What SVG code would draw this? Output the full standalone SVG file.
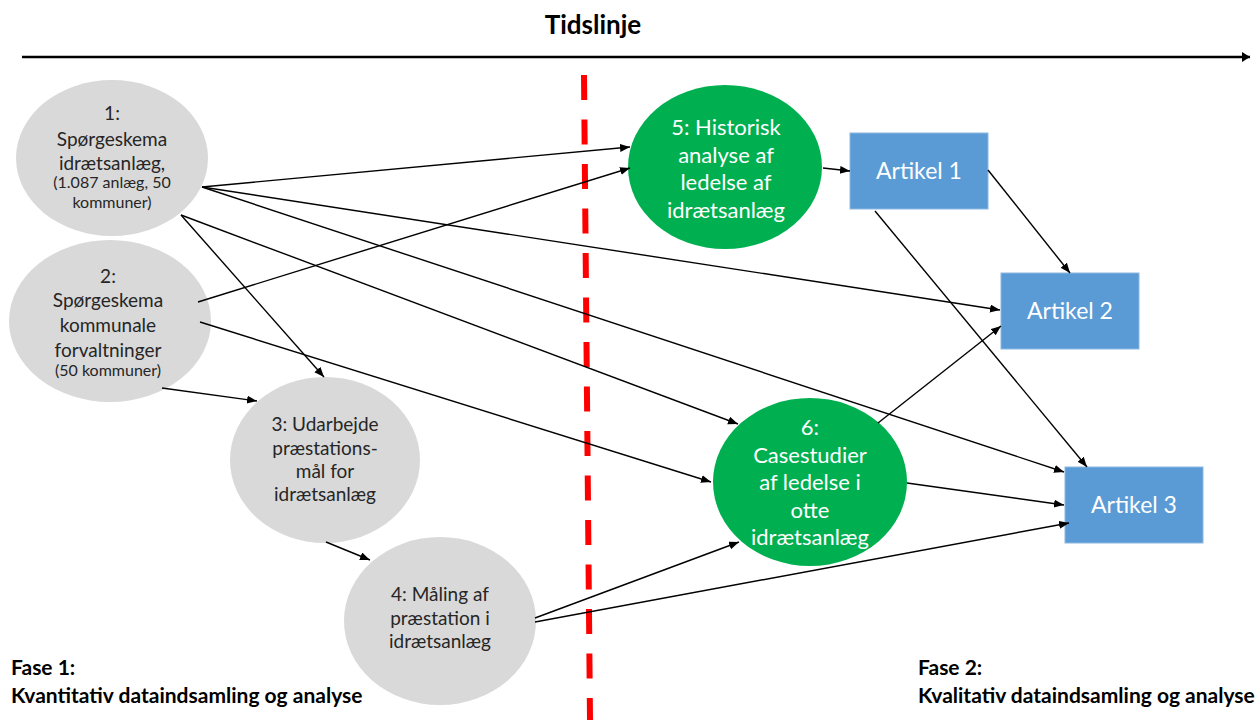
<svg xmlns="http://www.w3.org/2000/svg" width="1256" height="720" viewBox="0 0 1256 720">
<style>
.gray{fill:#D9D9D9}
.green{fill:#00B050}
.box{fill:#5B9BD5;stroke:#8DB8E2;stroke-width:1}
.gt{font-family:Lato,"Liberation Sans",sans-serif;font-size:19px;fill:#262626;text-anchor:middle}
.gs{font-size:16px}
.wt{font-family:Lato,"Liberation Sans",sans-serif;font-size:22px;fill:#FFFFFF;text-anchor:middle}
.at{font-family:Lato,"Liberation Sans",sans-serif;font-size:23px;fill:#FFFFFF;text-anchor:middle}
.bt{font-family:Lato,"Liberation Sans",sans-serif;font-weight:bold;fill:#000000}
.c{stroke:#000;stroke-width:1.4;fill:none;marker-end:url(#ah)}
</style>
<defs>
<marker id="ah" markerUnits="userSpaceOnUse" markerWidth="12" markerHeight="10" refX="10" refY="4" orient="auto">
<path d="M0,0 L10,4 L0,8 z" fill="#000"/>
</marker>
<marker id="ahb" markerUnits="userSpaceOnUse" markerWidth="12" markerHeight="12" refX="8" refY="5" orient="auto">
<path d="M0,0 L8,5 L0,10 z" fill="#000"/>
</marker>
</defs>
<rect x="0" y="0" width="1256" height="720" fill="#FFFFFF"/>

<g id="timeline">
<text class="bt" x="593" y="34" font-size="26" text-anchor="middle">Tidslinje</text>
<line x1="22" y1="57" x2="1250" y2="57" stroke="#000" stroke-width="2.5" marker-end="url(#ahb)"/>
</g>

<g id="divider">
<line x1="584" y1="75" x2="590" y2="720" stroke="#FF0000" stroke-width="6" stroke-dasharray="25 19.5"/>
</g>

<g id="node1">
<ellipse class="gray" cx="112" cy="158" rx="96" ry="78"/>
<text class="gt" x="112" y="120">1:</text>
<text class="gt" x="112" y="146">Spørgeskema</text>
<text class="gt" x="112" y="170">idrætsanlæg,</text>
<text class="gt gs" x="112" y="188">(1.087 anlæg, 50</text>
<text class="gt gs" x="112" y="208">kommuner)</text>
</g>

<g id="node2">
<ellipse class="gray" cx="110" cy="321" rx="101" ry="81"/>
<text class="gt" x="108" y="283">2:</text>
<text class="gt" x="108" y="307">Spørgeskema</text>
<text class="gt" x="108" y="332">kommunale</text>
<text class="gt" x="108" y="357">forvaltninger</text>
<text class="gt gs" x="108" y="376">(50 kommuner)</text>
</g>

<g id="node3">
<ellipse class="gray" cx="325" cy="460" rx="95" ry="83"/>
<text class="gt" x="325" y="431">3: Udarbejde</text>
<text class="gt" x="325" y="455">præstations-</text>
<text class="gt" x="325" y="478">mål for</text>
<text class="gt" x="325" y="501">idrætsanlæg</text>
</g>

<g id="node4">
<ellipse class="gray" cx="440" cy="621" rx="96" ry="84"/>
<text class="gt" x="440" y="601">4: Måling af</text>
<text class="gt" x="440" y="625">præstation i</text>
<text class="gt" x="440" y="648">idrætsanlæg</text>
</g>

<g id="node5">
<ellipse class="green" cx="725" cy="167" rx="97" ry="82"/>
<text class="wt" x="726" y="135">5: Historisk</text>
<text class="wt" x="726" y="163">analyse af</text>
<text class="wt" x="726" y="190">ledelse af</text>
<text class="wt" x="726" y="218">idrætsanlæg</text>
</g>

<g id="node6">
<ellipse class="green" cx="810" cy="482" rx="97" ry="84"/>
<text class="wt" x="810" y="435">6:</text>
<text class="wt" x="810" y="463">Casestudier</text>
<text class="wt" x="810" y="490">af ledelse i</text>
<text class="wt" x="810" y="518">otte</text>
<text class="wt" x="810" y="545">idrætsanlæg</text>
</g>

<g id="artikel1">
<rect class="box" x="850" y="133" width="138" height="76"/>
<text class="at" x="919" y="179">Artikel 1</text>
</g>

<g id="artikel2">
<rect class="box" x="1001" y="273" width="138" height="76"/>
<text class="at" x="1070" y="319">Artikel 2</text>
</g>

<g id="artikel3">
<rect class="box" x="1065" y="467" width="138" height="76"/>
<text class="at" x="1134" y="513">Artikel 3</text>
</g>

<g id="connectors">
<line class="c" x1="202" y1="187" x2="630" y2="147"/>
<line class="c" x1="202" y1="187" x2="1000" y2="310"/>
<line class="c" x1="202" y1="187" x2="1064" y2="472"/>
<line class="c" x1="181" y1="215" x2="324" y2="377"/>
<line class="c" x1="181" y1="215" x2="738" y2="424"/>
<line class="c" x1="198" y1="302" x2="630" y2="168"/>
<line class="c" x1="200" y1="322" x2="711" y2="482"/>
<line class="c" x1="162" y1="388" x2="257" y2="401"/>
<line class="c" x1="326" y1="542" x2="370" y2="560"/>
<line class="c" x1="535" y1="618" x2="739" y2="542"/>
<line class="c" x1="535" y1="622" x2="1069" y2="523"/>
<line class="c" x1="907" y1="483" x2="1064" y2="505"/>
<line class="c" x1="878" y1="423" x2="1001" y2="326"/>
<line class="c" x1="823" y1="168" x2="850" y2="171"/>
<line class="c" x1="988" y1="170" x2="1070" y2="273"/>
<line class="c" x1="875" y1="211" x2="1087" y2="467"/>
</g>

<g id="phase1">
<text class="bt" x="11" y="675" font-size="21">Fase 1:</text>
<text class="bt" x="11" y="703" font-size="21">Kvantitativ dataindsamling og analyse</text>
</g>
<g id="phase2">
<text class="bt" x="918" y="675" font-size="21">Fase 2:</text>
<text class="bt" x="918" y="703" font-size="21">Kvalitativ dataindsamling og analyse</text>
</g>
</svg>
